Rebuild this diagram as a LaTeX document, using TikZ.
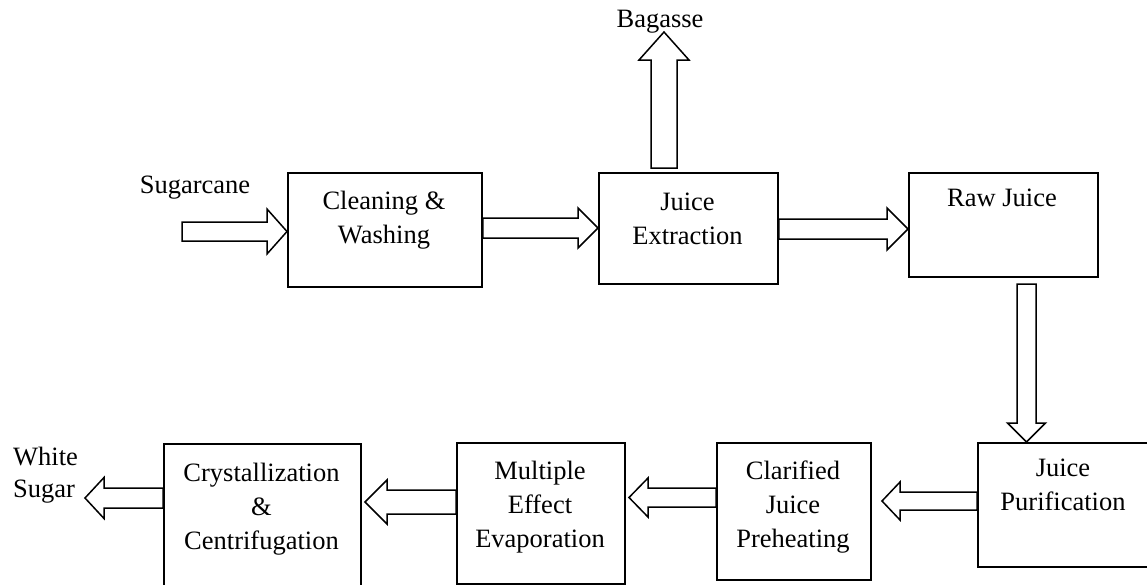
\documentclass[tikz,border=0pt]{standalone}
\usepackage{fontspec}
\setmainfont{Liberation Serif}
\usetikzlibrary{calc}
\tikzset{
  boxnode/.style={draw, line width=1.8pt, rectangle, inner sep=0pt, anchor=north west},
  txt/.style={font=\fontsize{26.5}{34}\selectfont, align=center, inner sep=0pt, anchor=north},
  lbl/.style={font=\fontsize{26.5}{33}\selectfont, inner sep=0pt, anchor=base},
  blockarr/.style={draw, line width=1.5pt, fill=white, line join=miter}
}
% tail, tip, half shaft, half head, head length
\newcommand\blockarrow[5]{%
  \path coordinate (ba-h) at ($(#2)!#5!(#1)$);
  \draw[blockarr] ($(#1)!#3!90:(#2)$) -- ($(ba-h)!#3!90:(#2)$) -- ($(ba-h)!#4!90:(#2)$) -- (#2)
    -- ($(ba-h)!#4!-90:(#2)$) -- ($(ba-h)!#3!-90:(#2)$) -- ($(#1)!#3!-90:(#2)$) -- cycle;}
\begin{document}
\begin{tikzpicture}[x=1pt,y=-1pt]
\useasboundingbox (0,0) rectangle (1147,584);
% boxes
\node[boxnode, minimum width=194pt, minimum height=114pt] (cw) at (287,172) {};
\node[boxnode, minimum width=179pt, minimum height=111pt] (je) at (598,172) {};
\node[boxnode, minimum width=189pt, minimum height=104pt] (rj) at (908,172) {};
\node[boxnode, minimum width=220pt, minimum height=124pt] (jp) at (977,442) {};
\node[boxnode, minimum width=154pt, minimum height=137pt] (cp) at (716,442) {};
\node[boxnode, minimum width=168pt, minimum height=141pt] (me) at (456,442) {};
\node[boxnode, minimum width=197pt, minimum height=160pt] (cc) at (163,443) {};
% texts
\node[txt] (cwt) at (384,191) {Cleaning \&\\Washing};
\node[txt] (jet) at (687.5,193) {Juice\\Extraction};
\node[txt] (rjt) at (1002,189) {Raw Juice};
\node[txt] (jpt) at (1063,459) {Juice\\Purification};
\node[txt] (cpt) at (793,461) {Clarified\\Juice\\Preheating};
\node[txt] (met) at (540,461) {Multiple\\Effect\\Evaporation};
\node[txt] (cct) at (261.5,463) {Crystallization\\\&\\Centrifugation};
% outer labels
\node[lbl] (sugarcane) at (195,193) {Sugarcane};
\node[lbl] (bagasse) at (660,27) {Bagasse};
\node[lbl, anchor=base west] (white) at (13,465) {White};
\node[lbl, anchor=base west] (sugar) at (13,497) {Sugar};
% free ends
\coordinate (inTail) at (182,231.5);
\coordinate (bagTip) at (664,32);
\coordinate (bagTail) at (664,168);
\coordinate (rjTail) at (1026.5,284);
\coordinate (cpTip) at (882,501);
\coordinate (meTip) at (629,497.5);
\coordinate (ccTip) at (365,502);
\coordinate (wsTip) at (85,498);
% arrows
\blockarrow{inTail}{cw.west |- inTail}{9.5pt}{22.5pt}{20pt}
\blockarrow{cw.east |- 0,228}{je.west |- 0,228}{10pt}{20pt}{20pt}
\blockarrow{bagTail}{bagTip}{13pt}{25pt}{28pt}
\blockarrow{je.east |- 0,229}{rj.west |- 0,229}{10pt}{21pt}{21pt}
\blockarrow{rjTail}{jp.north -| rjTail}{9.5pt}{19pt}{19pt}
\blockarrow{jp.west |- cpTip}{cpTip}{9pt}{19pt}{18pt}
\blockarrow{cp.west |- meTip}{meTip}{9.5pt}{19.5pt}{19pt}
\blockarrow{me.west |- ccTip}{ccTip}{12pt}{22pt}{22pt}
\blockarrow{cc.west |- wsTip}{wsTip}{10pt}{20.5pt}{19pt}
\end{tikzpicture}
\end{document}
